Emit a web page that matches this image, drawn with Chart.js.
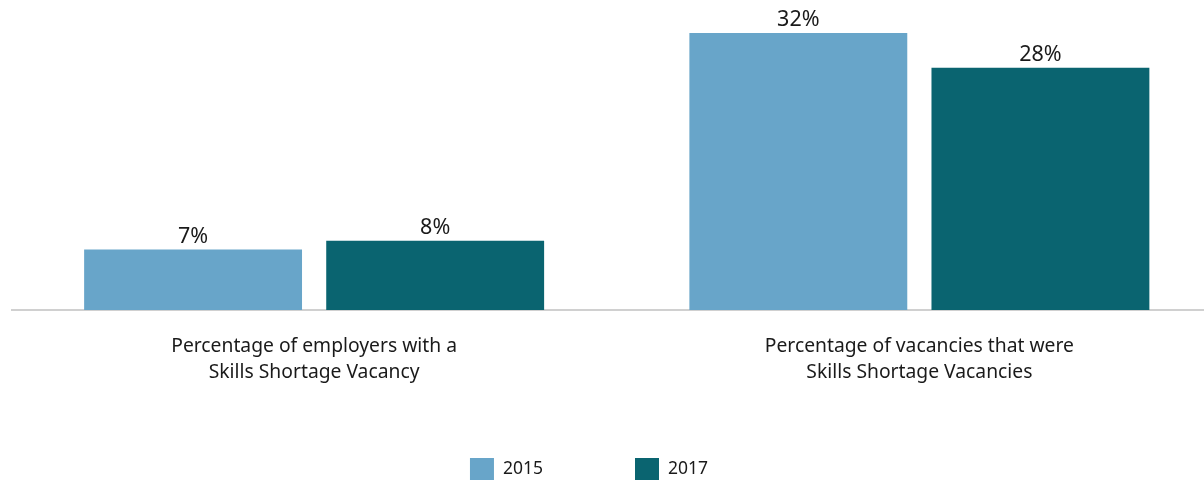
<!DOCTYPE html>
<html>
<head>
<meta charset="utf-8">
<script src="https://cdn.jsdelivr.net/npm/chart.js@4.4.1/dist/chart.umd.min.js"></script>
<style>
  html, body { margin: 0; padding: 0; overflow: hidden; background: #ffffff; }
  #wrap { position: relative; width: 1222px; height: 481px; }
</style>
</head>
<body>
<div id="wrap"><canvas id="chart"></canvas></div>
<script>
// Chart data
const categories = [
    ['Percentage of employers with a', 'Skills Shortage Vacancy'],
    ['Percentage of vacancies that were', 'Skills Shortage Vacancies']
];
const seriesLabels = ['2015', '2017'];
const values2015 = [7, 32];
const values2017 = [8, 28];
const seriesColors = ['#68a5c9', '#0a6470'];

const FONT = "'Noto Sans', sans-serif";

// Draws the value above each bar
const valueLabels = {
    id: 'valueLabels',
    afterDatasetsDraw(chart) {
        const ctx = chart.ctx;
        ctx.save();
        ctx.font = '21.5px ' + FONT;
        ctx.fillStyle = '#1a1a1a';
        ctx.textAlign = 'center';
        ctx.textBaseline = 'bottom';
        chart.data.datasets.forEach((ds, i) => {
            chart.getDatasetMeta(i).data.forEach((bar, j) => {
                ctx.fillText(ds.data[j] + '%', bar.x, bar.y - 2);
            });
        });
        ctx.restore();
    }
};

// Legend drawn at the bottom, centred a little left of the page middle
const bottomLegend = {
    id: 'bottomLegend',
    afterDraw(chart) {
        const ctx = chart.ctx;
        const boxW = 24, boxH = 22, gap = 9, spacing = 92;
        const centerX = 589, boxTop = 458;
        ctx.save();
        ctx.font = '17.5px ' + FONT;
        const items = chart.data.datasets.map(ds => ({
            text: ds.label,
            color: ds.backgroundColor,
            width: boxW + gap + ctx.measureText(ds.label).width
        }));
        const total = items.reduce((s, it) => s + it.width, 0) + spacing * (items.length - 1);
        let x = centerX - total / 2;
        items.forEach(it => {
            ctx.fillStyle = it.color;
            ctx.fillRect(x, boxTop, boxW, boxH);
            ctx.fillStyle = '#1a1a1a';
            ctx.textAlign = 'left';
            ctx.textBaseline = 'middle';
            ctx.fillText(it.text, x + boxW + gap, boxTop + boxH / 2);
            x += it.width + spacing;
        });
        ctx.restore();
    }
};

new Chart(document.getElementById('chart'), {
    type: 'bar',
    data: {
        labels: categories,
        datasets: [
            { label: seriesLabels[0], data: values2015, backgroundColor: seriesColors[0] },
            { label: seriesLabels[1], data: values2017, backgroundColor: seriesColors[1] }
        ]
    },
    options: {
        responsive: true,
        maintainAspectRatio: false,
        animation: false,
        layout: { padding: { top: 33, left: 11.5, right: 0, bottom: 0 } },
        plugins: {
            legend: { display: false },
            tooltip: { enabled: false }
        },
        scales: {
            x: {
                grid: { display: false, drawTicks: false },
                border: { display: true, color: '#d0d0d0', width: 2 },
                ticks: {
                    color: '#1a1a1a',
                    padding: 24,
                    maxRotation: 0,
                    autoSkip: false,
                    font: { family: FONT, size: 19.3, lineHeight: '26px' }
                },
                afterFit(scale) { scale.height = 171; }
            },
            y: {
                display: false,
                min: 0,
                max: 32
            }
        }
    },
    plugins: [valueLabels, bottomLegend]
});
</script>
</body>
</html>
